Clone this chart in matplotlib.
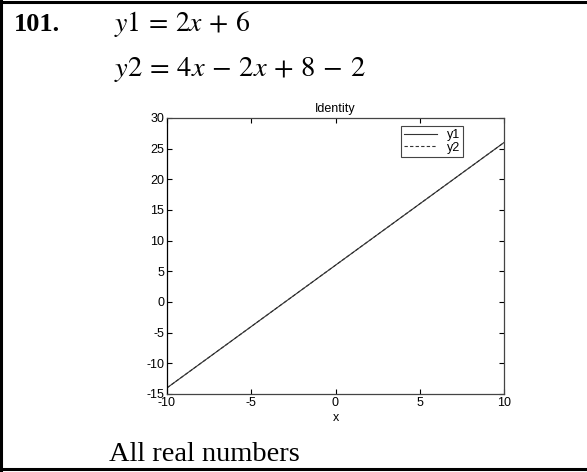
import matplotlib.pyplot as plt
from matplotlib.lines import Line2D

x = [-10, 10]
y1 = [-14, 26]
y2 = [-14, 26]
x_ticks = [-10, -5, 0, 5, 10]
y_ticks = [-15, -10, -5, 0, 5, 10, 15, 20, 25, 30]

plt.rcParams['mathtext.fontset'] = 'stix'
plt.rcParams['axes.unicode_minus'] = False

fig = plt.figure(figsize=(5.87, 4.72), dpi=100)
W, H = 587, 472

# frame around the problem
fig.add_artist(Line2D([0, 1], [1 - 1.5 / H, 1 - 1.5 / H], color='black', lw=2.2, transform=fig.transFigure))
fig.add_artist(Line2D([1.2 / W, 1.2 / W], [0, 1], color='black', lw=2.2, transform=fig.transFigure))
fig.add_artist(Line2D([0, 1], [3.5 / H, 3.5 / H], color='black', lw=2.2, transform=fig.transFigure))

sp = r"\hspace{0.18}"
fig.text(14 / W, 1 - 31 / H, "101.", fontsize=19, fontweight='bold', family='Liberation Serif')
fig.text(114 / W, 1 - 31 / H, rf"$y1{sp}={sp}2x{sp}+{sp}6$", fontsize=20)
fig.text(114 / W, 1 - 76 / H, rf"$y2{sp}={sp}4x{sp}-{sp}2x{sp}+{sp}8{sp}-{sp}2$", fontsize=20.5)
fig.text(109 / W, 1 - 461 / H, "All real numbers", fontsize=20.5, family='Liberation Serif')

ax = fig.add_axes([167 / W, 1 - 394 / H, 337 / W, 276 / H])
ax.plot(x, y1, color='#333333', lw=0.8, label='y1')
ax.plot(x, y2, color='#333333', lw=0.8, ls=(0, (3, 2)), label='y2')
ax.set_xlim(-10, 10)
ax.set_ylim(-15, 30)
ax.set_xticks(x_ticks)
ax.set_yticks(y_ticks)
ax.tick_params(direction='in', length=3.5, width=0.8, top=True, right=True,
               labelsize=9, pad=2)
for lab in ax.get_xticklabels() + ax.get_yticklabels():
    lab.set_family('Liberation Sans')
for s in ax.spines.values():
    s.set_linewidth(0.9)
    s.set_color('#444444')
ax.spines['left'].set_color('black')
ax.set_title("Identity", fontsize=9, family='Liberation Sans', pad=4)
ax.set_xlabel("x", fontsize=9, family='Liberation Sans', labelpad=2)
leg = ax.legend(loc='upper right', bbox_to_anchor=(0.878, 0.971), borderaxespad=0,
                prop={'family': 'Liberation Sans', 'size': 9},
                fancybox=False, framealpha=1, edgecolor='#444444',
                handlelength=2.6, borderpad=0.25, labelspacing=0.05, handletextpad=0.8)
leg.get_frame().set_linewidth(0.8)

fig.savefig('out.png', dpi=100)
